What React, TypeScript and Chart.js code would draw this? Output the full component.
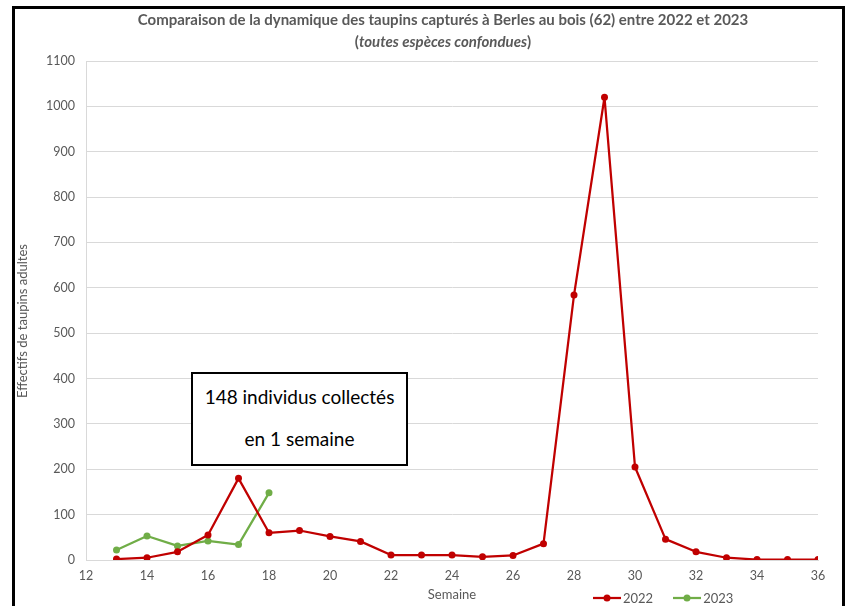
import React, { useEffect, useRef } from "react";
import { Chart, registerables } from "chart.js";

Chart.register(...registerables);

const weeks2022 = [13, 14, 15, 16, 17, 18, 19, 20, 21, 22, 23, 24, 25, 26, 27, 28, 29, 30, 31, 32, 33, 34, 35, 36];
const values2022 = [2, 5, 18, 55, 180, 60, 65, 52, 41, 11, 11, 11, 7, 10, 36, 584, 1020, 205, 46, 18, 5, 1, 1, 1];
const weeks2023 = [13, 14, 15, 16, 17, 18];
const values2023 = [22, 53, 31, 42, 34, 148];

const titleLine1 = "Comparaison de la dynamique des taupins capturés à Berles au bois (62) entre 2022 et 2023";
const titleLine2 = "toutes espèces confondues";
const yTitle = "Effectifs de taupins adultes";
const xTitle = "Semaine";
const annotationLines = ["148 individus collectés", "en 1 semaine"];
const seriesNames = ["2022", "2023"];
const colors = ["#c00000", "#70ad47"];

const FONT = "Lato, 'Open Sans', sans-serif";
const GRAY = "#595959";

export default function App() {
  const canvasRef = useRef<HTMLCanvasElement | null>(null);

  useEffect(() => {
    const canvas = canvasRef.current;
    if (!canvas) return;
    const chart = new Chart(canvas, {
      type: "line",
      data: {
        datasets: [
          {
            label: seriesNames[0],
            data: weeks2022.map((w, i) => ({ x: w, y: values2022[i] })),
            borderColor: colors[0],
            backgroundColor: colors[0],
            borderWidth: 2.25,
            borderJoinStyle: "round",
            pointRadius: 3.5,
            pointBorderWidth: 0,
            tension: 0,
          },
          {
            label: seriesNames[1],
            data: weeks2023.map((w, i) => ({ x: w, y: values2023[i] })),
            borderColor: colors[1],
            backgroundColor: colors[1],
            borderWidth: 2.25,
            borderJoinStyle: "round",
            pointRadius: 3.5,
            pointBorderWidth: 0,
            tension: 0,
          },
        ],
      },
      options: {
        animation: false,
        responsive: false,
        maintainAspectRatio: false,
        layout: { padding: { top: 61, left: 0, right: 30, bottom: 0 } },
        plugins: {
          legend: { display: false },
          tooltip: { enabled: false },
          title: { display: false },
        },
        scales: {
          x: {
            type: "linear",
            min: 12,
            max: 36,
            afterFit: (s: any) => {
              s.height = 46;
            },
            ticks: {
              stepSize: 2,
              color: GRAY,
              font: { family: FONT, size: 12.5 },
              padding: 8,
              maxRotation: 0,
              callback: (v: any) => String(v),
            },
            grid: { display: false, drawTicks: false },
            border: { display: true, color: "#d9d9d9", width: 1 },
          },
          y: {
            type: "linear",
            min: 0,
            max: 1100,
            afterFit: (s: any) => {
              s.width = 86;
            },
            ticks: {
              stepSize: 100,
              color: GRAY,
              font: { family: FONT, size: 12.5 },
              padding: 11,
              callback: (v: any) => String(v),
            },
            grid: { color: "#d9d9d9", drawTicks: false, lineWidth: 1 },
            border: { display: true, color: "#d9d9d9", width: 1 },
          },
        },
      },
    });
    return () => chart.destroy();
  }, []);

  return (
    <div style={{ position: "fixed", left: 0, top: 0, width: 848, height: 606, background: "#fff", overflow: "hidden", fontFamily: FONT }}>
      <div
        style={{
          position: "absolute",
          left: 12,
          top: 6,
          width: 827,
          height: 640,
          border: "3px solid #000",
        }}
      />
      <canvas ref={canvasRef} width={848} height={606} style={{ position: "absolute", left: 0, top: 0, width: 848, height: 606 }} />
      <div
        style={{
          position: "absolute",
          left: 0,
          width: 886,
          top: 8,
          textAlign: "center",
          color: GRAY,
          fontWeight: 700,
          fontSize: 15,
          lineHeight: "22px",
        }}
      >
        <div>{titleLine1}</div>
        <div>
          (<i>{titleLine2}</i>)
        </div>
      </div>
      <div
        style={{
          position: "absolute",
          left: 22 - 100,
          top: 321 - 8,
          width: 200,
          height: 16,
          lineHeight: "16px",
          textAlign: "center",
          transform: "rotate(-90deg)",
          color: GRAY,
          fontSize: 13,
          whiteSpace: "nowrap",
        }}
      >
        {yTitle}
      </div>
      <div
        style={{
          position: "absolute",
          left: 352,
          width: 200,
          top: 586,
          lineHeight: "16px",
          textAlign: "center",
          color: GRAY,
          fontSize: 13,
        }}
      >
        {xTitle}
      </div>
      <div style={{ position: "absolute", left: 593, top: 590, height: 16, display: "flex", alignItems: "center", color: GRAY, fontSize: 13 }}>
        {seriesNames.map((n, i) => (
          <div key={n} style={{ display: "flex", alignItems: "center", marginRight: 20 }}>
            <svg width={28} height={10} style={{ marginRight: 2 }}>
              <line x1={0} y1={5} x2={28} y2={5} stroke={colors[i]} strokeWidth={2.25} />
              <circle cx={14} cy={5} r={3.5} fill={colors[i]} />
            </svg>
            <span>{n}</span>
          </div>
        ))}
      </div>
      <div
        style={{
          position: "absolute",
          left: 191,
          top: 372,
          width: 213,
          height: 90,
          border: "2px solid #000",
          background: "#fff",
          color: "#000",
          fontSize: 19,
          textAlign: "center",
        }}
      >
        <div style={{ position: "absolute", left: 0, right: 0, top: 12, lineHeight: "22px" }}>{annotationLines[0]}</div>
        <div style={{ position: "absolute", left: 0, right: 0, top: 54, lineHeight: "22px" }}>{annotationLines[1]}</div>
      </div>
    </div>
  );
}
